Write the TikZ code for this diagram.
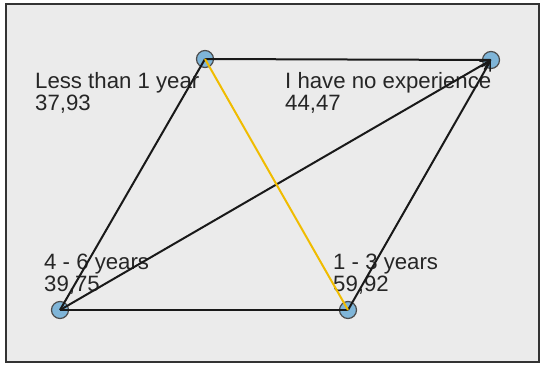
\documentclass[tikz,border=0pt]{standalone}
\usepackage{fontspec}
\setmainfont{Liberation Sans}
\usepackage{xcolor}
\usetikzlibrary{arrows.meta}
\definecolor{panel}{HTML}{EBEBEB}
\definecolor{dotblue}{HTML}{7FB5D8}
\definecolor{hlyellow}{HTML}{F0BC00}

\begin{document}
\begin{tikzpicture}[
x=1pt, y=-1pt,
vertex/.style={circle, draw=black!70, line width=1.2pt, fill=dotblue, minimum size=17pt, inner sep=0pt},
lbl/.style={anchor=base west, align=left, inner sep=0pt, text=black!85, font=\fontsize{22.2}{21.7}\selectfont},
edge/.style={line width=2pt, black!90},
hl/.style={line width=2pt, hlyellow},
arr/.style={edge, -{Straight Barb[length=9pt, width=10pt, line width=1.6pt]}}
]
\useasboundingbox (0,0) rectangle (540,367);
\draw[fill=panel, draw=black!80, line width=2pt] (6,4) rectangle (539,362);

% vertices
\node[vertex] (lessone) at (205,59) {};
\node[vertex] (noexp) at (491,60) {};
\node[vertex] (foursix) at (60,310) {};
\node[vertex] (onethree) at (348,310) {};

% labels (base = last line)
\node[lbl] (lbllessone) at (35,110) {Less than 1 year\\37,93};
\node[lbl] (lblnoexp) at (285,110) {I have no experience\\44,47};
\node[lbl] (lblfoursix) at (44,291.5) {4 - 6 years\\39,75};
\node[lbl] (lblonethree) at (333,291.5) {1 - 3 years\\59,92};

% connectors
\draw[edge] (lessone.center) -- (noexp.center);
\draw[edge] (foursix.center) -- (onethree.center);
\draw[edge] (foursix.center) -- (lessone.center);
\draw[arr] (foursix.center) -- (noexp.center);
\draw[arr] (onethree.center) -- (noexp.center);
\draw[hl] (lessone.center) -- (onethree.center);
\end{tikzpicture}
\end{document}
